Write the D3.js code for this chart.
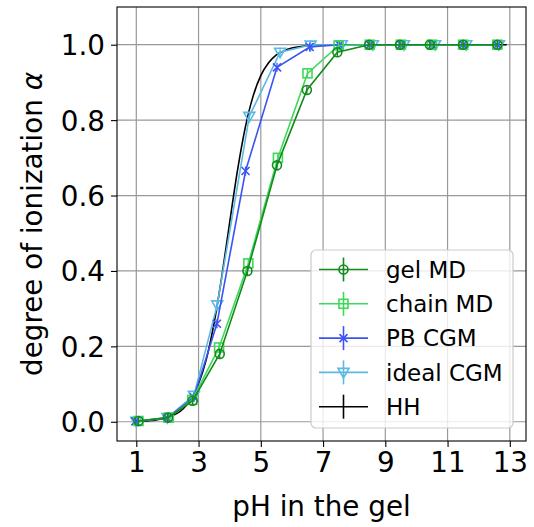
<!DOCTYPE html>
<html lang="en">
<head>
    <meta charset="utf-8" />
    <title>Degree of ionization</title>
    <script src="https://d3js.org/d3.v7.min.js"></script>
    <style>
        body { margin: 0; background: white; }
        text { font-family: 'DejaVu Sans', sans-serif; fill: black; }
    </style>
</head>
<body>
    <script>

        // pH values and degree of ionization for each series
        const gelPH = [1.07, 2.02, 2.81, 3.68, 4.57, 5.52, 6.48, 7.46, 8.48, 9.47, 10.43, 11.5, 12.6];
        const gelAlpha = [0.002, 0.011, 0.056, 0.18, 0.40, 0.68, 0.88, 0.98, 1.0, 1.0, 1.0, 1.0, 1.0];

        const chainPH = [1.07, 2.04, 2.8, 3.66, 4.6, 5.55, 6.5, 7.5, 8.5, 9.5, 10.5, 11.5, 12.6];
        const chainAlpha = [0.002, 0.011, 0.058, 0.197, 0.42, 0.70, 0.924, 0.998, 1.0, 1.0, 1.0, 1.0, 1.0];

        const pbPH = [0.97, 2.0, 2.85, 3.59, 4.51, 5.52, 6.57, 7.53, 8.5, 9.5, 10.5, 11.5, 12.6];
        const pbAlpha = [0.001, 0.01, 0.065, 0.26, 0.665, 0.94, 0.994, 1.0, 1.0, 1.0, 1.0, 1.0, 1.0];

        const idealPH = [1.0, 2.0, 2.85, 3.6, 4.63, 5.62, 6.6, 7.6, 8.6, 9.6, 10.6, 11.6, 12.65];
        const idealAlpha = [0.001, 0.011, 0.07, 0.31, 0.81, 0.98, 0.999, 1.0, 1.0, 1.0, 1.0, 1.0, 1.0];

        // Henderson-Hasselbalch curve, values
        const hhPH = [1.0, 1.5, 2.0, 2.5, 2.75, 3.0, 3.25, 3.5, 3.75, 4.0, 4.25, 4.5, 4.75, 5.0, 5.25, 5.5, 5.75, 6.0, 6.5, 7.0, 8.0, 9.0, 12.9];
        const hhAlpha = [0.001, 0.0035, 0.011, 0.034, 0.059, 0.101, 0.166, 0.262, 0.387, 0.529, 0.666, 0.780, 0.863, 0.918, 0.952, 0.973, 0.984, 0.991, 0.997, 0.999, 1.0, 1.0, 1.0];

        // small error bars on the simulation points
        const mdErr = 0.012;

        const seriesNames = ["gel MD", "chain MD", "PB CGM", "ideal CGM", "HH"];
        const xTicks = [1, 3, 5, 7, 9, 11, 13];
        const yTicks = [0.0, 0.2, 0.4, 0.6, 0.8, 1.0];

        // Layout
        const width = 534, height = 527;
        const margin = { top: 7, right: 8, bottom: 86, left: 117 };

        const svg = d3.select("body").append("svg")
            .attr("width", width)
            .attr("height", height);

        const x = d3.scaleLinear()
            .domain([0.38, 13.52])
            .range([margin.left, width - margin.right]);

        const y = d3.scaleLinear()
            .domain([-0.051, 1.1])
            .range([height - margin.bottom, margin.top]);

        // Grid
        svg.append("g")
            .selectAll("line")
            .data(xTicks)
            .join("line")
            .attr("x1", d => x(d)).attr("x2", d => x(d))
            .attr("y1", margin.top).attr("y2", height - margin.bottom)
            .attr("stroke", "#999").attr("stroke-width", 1.2);

        svg.append("g")
            .selectAll("line")
            .data(yTicks)
            .join("line")
            .attr("x1", margin.left).attr("x2", width - margin.right)
            .attr("y1", d => y(d)).attr("y2", d => y(d))
            .attr("stroke", "#999").attr("stroke-width", 1.2);

        // Axes
        const xAxis = svg.append("g")
            .attr("transform", `translate(0, ${height - margin.bottom})`)
            .call(d3.axisBottom(x).tickValues(xTicks).tickSize(6).tickPadding(5));

        const yAxis = svg.append("g")
            .attr("transform", `translate(${margin.left}, 0)`)
            .call(d3.axisLeft(y).tickValues(yTicks).tickSize(6).tickPadding(6)
                .tickFormat(d3.format(".1f")));

        [xAxis, yAxis].forEach(a => {
            a.select(".domain").remove();
            a.selectAll("line").attr("stroke", "black").attr("stroke-width", 1.1);
            a.selectAll("text").style("font-size", "27.8px").attr("fill", "black");
        });
        yAxis.selectAll("text").attr("dy", "0.36em");

        // Frame
        svg.append("rect")
            .attr("x", margin.left).attr("y", margin.top)
            .attr("width", width - margin.left - margin.right)
            .attr("height", height - margin.top - margin.bottom)
            .attr("fill", "none").attr("stroke", "black").attr("stroke-width", 1.1);

        // Axis labels
        svg.append("text")
            .attr("x", (margin.left + width - margin.right) / 2)
            .attr("y", 516)
            .attr("text-anchor", "middle")
            .style("font-size", "27.8px")
            .text("pH in the gel");

        const yl = svg.append("text")
            .attr("transform", `translate(42, ${(margin.top + height - margin.bottom) / 2}) rotate(-90)`)
            .attr("text-anchor", "middle")
            .style("font-size", "27.8px");
        yl.append("tspan").text("degree of ionization ");
        yl.append("tspan").style("font-style", "italic").text("α");

        // Marker drawers
        function drawMarker(g, type, color, cx, cy) {
            if (type === "circle") {
                g.append("circle").attr("cx", cx).attr("cy", cy).attr("r", 4.5)
                    .attr("fill", "none").attr("stroke", color).attr("stroke-width", 1.6);
            } else if (type === "square") {
                g.append("rect").attr("x", cx - 4.5).attr("y", cy - 4.5)
                    .attr("width", 9).attr("height", 9)
                    .attr("fill", "none").attr("stroke", color).attr("stroke-width", 1.6);
            } else if (type === "x") {
                g.append("path")
                    .attr("d", `M${cx - 4},${cy - 4}L${cx + 4},${cy + 4}M${cx - 4},${cy + 4}L${cx + 4},${cy - 4}`)
                    .attr("stroke", color).attr("stroke-width", 1.6);
            } else if (type === "tri") {
                g.append("path")
                    .attr("d", `M${cx - 5.5},${cy - 4}L${cx + 5.5},${cy - 4}L${cx},${cy + 5.5}Z`)
                    .attr("fill", "none").attr("stroke", color).attr("stroke-width", 1.6);
            }
        }

        const line = d3.line().x(d => x(d[0])).y(d => y(d[1]));

        const series = [
            { name: seriesNames[4], xs: hhPH, ys: hhAlpha, color: "black", marker: null },
            { name: seriesNames[3], xs: idealPH, ys: idealAlpha, color: "#5cb8e4", marker: "tri" },
            { name: seriesNames[2], xs: pbPH, ys: pbAlpha, color: "#3d52f5", marker: "x" },
            { name: seriesNames[1], xs: chainPH, ys: chainAlpha, color: "#3ed95a", marker: "square" },
            { name: seriesNames[0], xs: gelPH, ys: gelAlpha, color: "#138a1c", marker: "circle" }
        ];

        series.forEach(s => {
            const pts = s.xs.map((v, i) => [v, s.ys[i]]);
            const g = svg.append("g");
            g.append("path")
                .datum(pts)
                .attr("d", s.marker ? line : line.curve(d3.curveMonotoneX))
                .attr("fill", "none")
                .attr("stroke", s.color)
                .attr("stroke-width", 1.6);
            line.curve(d3.curveLinear);
            if (s.marker) {
                pts.forEach(p => {
                    g.append("line")
                        .attr("x1", x(p[0])).attr("x2", x(p[0]))
                        .attr("y1", y(p[1] - mdErr)).attr("y2", y(p[1] + mdErr))
                        .attr("stroke", s.color).attr("stroke-width", 1.3);
                    drawMarker(g, s.marker, s.color, x(p[0]), y(p[1]));
                });
            }
        });

        // Legend
        const legendOrder = series.slice().reverse();
        const lg = svg.append("g").attr("transform", "translate(311, 250)");
        lg.append("rect")
            .attr("width", 202).attr("height", 178)
            .attr("rx", 5).attr("ry", 5)
            .attr("fill", "white").attr("fill-opacity", 0.8)
            .attr("stroke", "#ccc").attr("stroke-width", 1.2);

        legendOrder.forEach((s, i) => {
            const ly = 19.5 + i * 34.3;
            lg.append("line")
                .attr("x1", 8).attr("x2", 57).attr("y1", ly).attr("y2", ly)
                .attr("stroke", s.color).attr("stroke-width", 1.6);
            lg.append("line")
                .attr("x1", 32.5).attr("x2", 32.5).attr("y1", ly - 12).attr("y2", ly + 12)
                .attr("stroke", s.color).attr("stroke-width", 1.6);
            if (s.marker) drawMarker(lg, s.marker, s.color, 32.5, ly);
            lg.append("text")
                .attr("x", 75).attr("y", ly)
                .attr("dy", "0.36em")
                .style("font-size", "23px")
                .text(s.name);
        });

    </script>
</body>
</html>
